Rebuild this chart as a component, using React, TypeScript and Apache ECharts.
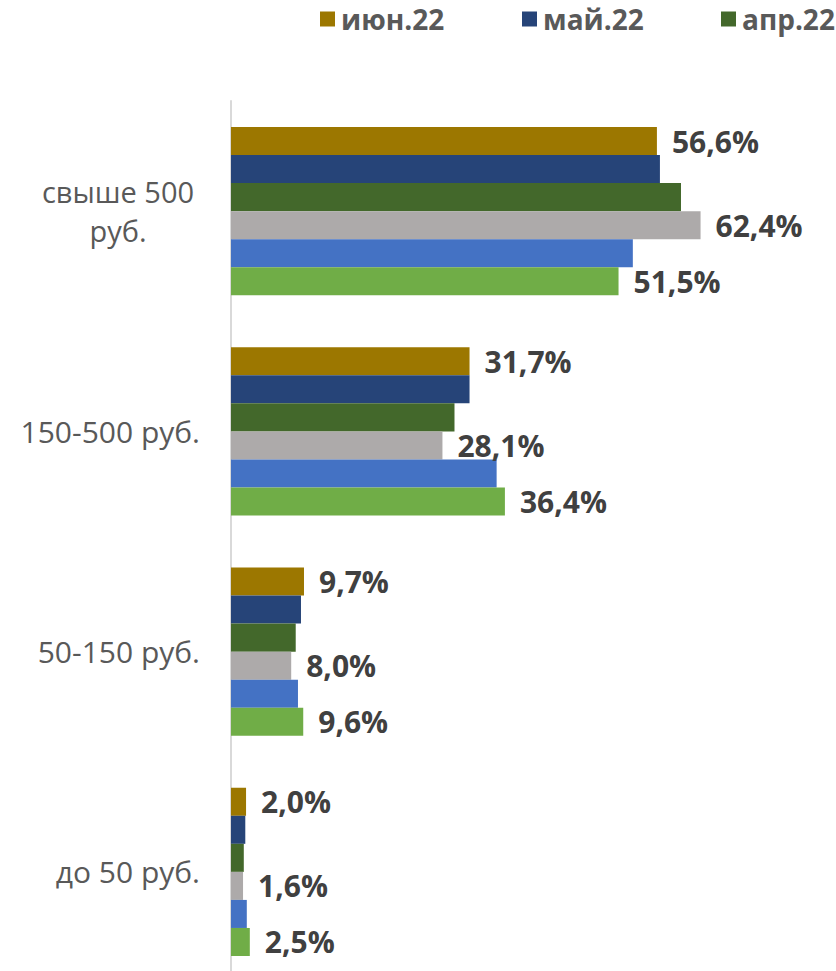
import React, { useEffect, useRef } from "react";
import * as echarts from "echarts";

const categories = ["свыше 500 руб.", "150-500 руб.", "50-150 руб.", "до 50 руб."];
const seriesNames = ["июн.22", "май.22", "апр.22", "мар.22", "фев.22", "янв.22"];
const jun22 = [56.6, 31.7, 9.7, 2.0];
const may22 = [57.0, 31.7, 9.3, 1.9];
const apr22 = [59.8, 29.7, 8.6, 1.7];
const mar22 = [62.4, 28.1, 8.0, 1.6];
const feb22 = [53.4, 35.3, 8.9, 2.1];
const jan22 = [51.5, 36.4, 9.6, 2.5];
const seriesValues = [jun22, may22, apr22, mar22, feb22, jan22];
const colors = ["#9C7700", "#264478", "#43682B", "#ADAAAA", "#4472C4", "#70AD47"];
const labelled = [true, false, false, true, false, true];
const legendItems = ["июн.22", "май.22", "апр.22"];
const legendLefts = [320, 522, 721];

const FONT = "'Open Sans', sans-serif";

export default function App() {
  const ref = useRef<HTMLDivElement>(null);
  useEffect(() => {
    document.body.style.margin = "0";
    const chart = echarts.init(ref.current!, null, { renderer: "svg" });
    chart.setOption({
      animation: false,
      backgroundColor: "#ffffff",
      legend: legendItems.map((name, i) => ({
        data: [name],
        left: legendLefts[i],
        top: 5,
        padding: 0,
        itemWidth: 15,
        itemHeight: 15,
        icon: "rect",
        textStyle: {
          fontFamily: FONT,
          fontSize: 28,
          fontWeight: "bold",
          color: "#595959",
          padding: [0, 0, 0, 1],
        },
      })),
      grid: { left: 231, top: 101, width: 602, height: 881, containLabel: false },
      xAxis: {
        type: "value",
        min: 0,
        max: 80,
        show: false,
        splitLine: { show: false },
      },
      yAxis: {
        type: "category",
        data: categories,
        inverse: true,
        axisLine: { show: true, lineStyle: { color: "#D9D9D9", width: 2 } },
        axisTick: { show: false },
        axisLabel: {
          margin: 31,
          fontFamily: FONT,
          fontSize: 30,
          color: "#595959",
          formatter: (v: string) =>
            v === "свыше 500 руб." ? "{c|свыше 500}\n{c|руб.}" : "{r|" + v + "}",
          rich: {
            c: { width: 164, align: "center", fontFamily: FONT, fontSize: 29, color: "#595959", lineHeight: 39 },
            r: { fontFamily: FONT, fontSize: 30, color: "#595959" },
          },
        },
      },
      series: seriesNames.map((name, i) => ({
        name,
        type: "bar",
        data: seriesValues[i],
        barGap: "0%",
        barCategoryGap: "23.6%",
        itemStyle: { color: colors[i] },
        label: {
          show: labelled[i],
          position: "right",
          distance: 15,
          fontFamily: FONT,
          fontSize: 30,
          fontWeight: "bold",
          color: "#404040",
          formatter: (p: any) => p.value.toFixed(1).replace(".", ",") + "%",
        },
      })),
    });
    return () => chart.dispose();
  }, []);
  return (
    <div style={{ width: 836, height: 971, overflow: "hidden" }}>
      <div ref={ref} style={{ width: 836, height: 990 }} />
    </div>
  );
}
